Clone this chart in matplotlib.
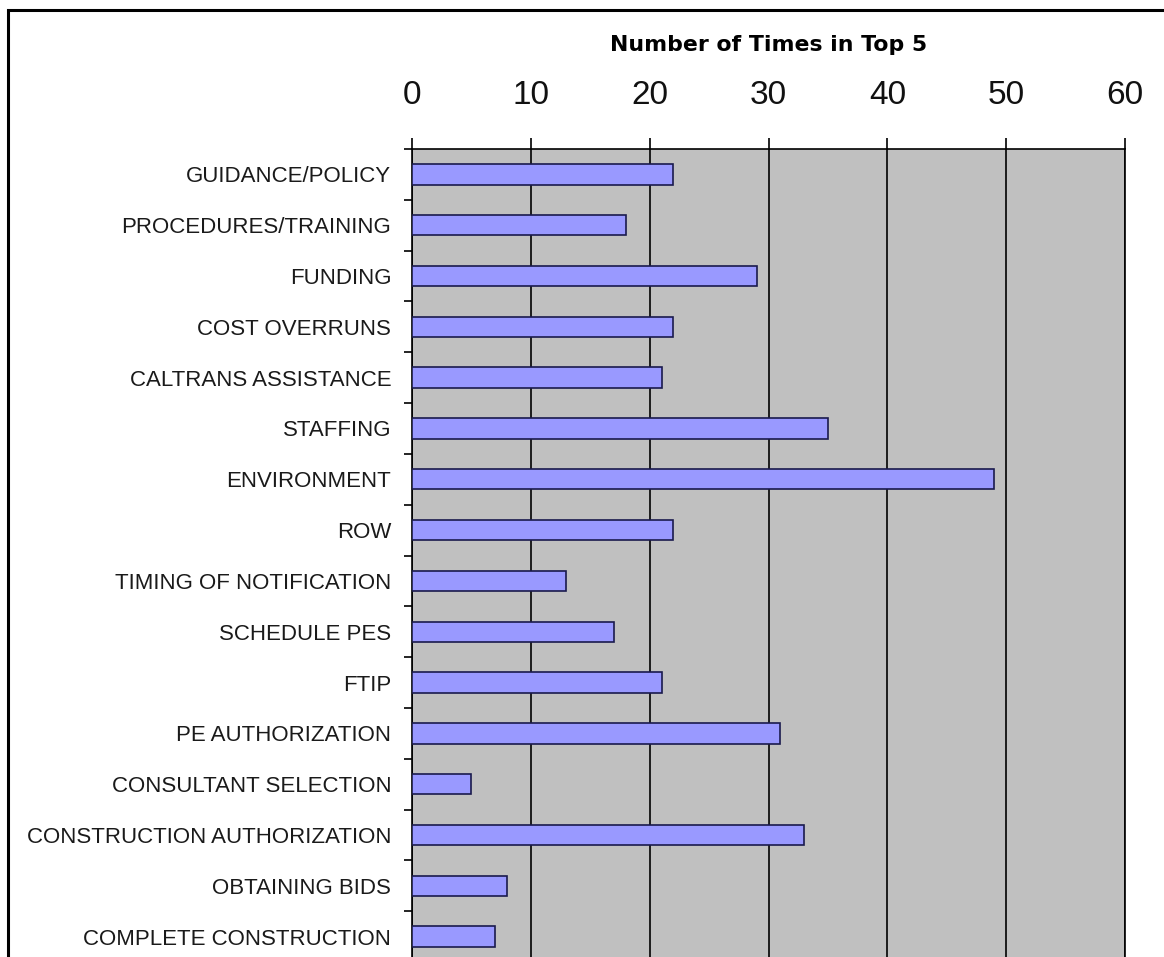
import matplotlib
matplotlib.use("Agg")
import matplotlib.pyplot as plt
from matplotlib.patches import Rectangle
from matplotlib.ticker import FixedLocator
import numpy as np

categories = [
    "GUIDANCE/POLICY",
    "PROCEDURES/TRAINING",
    "FUNDING",
    "COST OVERRUNS",
    "CALTRANS ASSISTANCE",
    "STAFFING",
    "ENVIRONMENT",
    "ROW",
    "TIMING OF NOTIFICATION",
    "SCHEDULE PES",
    "FTIP",
    "PE AUTHORIZATION",
    "CONSULTANT SELECTION",
    "CONSTRUCTION AUTHORIZATION",
    "OBTAINING BIDS",
    "COMPLETE CONSTRUCTION",
]
times_in_top5 = [22, 18, 29, 22, 21, 35, 49, 22, 13, 17, 21, 31, 5, 33, 8, 7]
x_ticks = [0, 10, 20, 30, 40, 50, 60]
axis_title = "Number of Times in Top 5"

W, H = 1164, 957
fig = plt.figure(figsize=(W / 100, H / 100), dpi=100)

# plot area: the lower edge runs just past the bottom of the figure
left, right, top, bottom = 412, 1125, 149, 962
ax = fig.add_axes([left / W, (H - bottom) / H, (right - left) / W, (bottom - top) / H])
ax.set_facecolor("#c0c0c0")

y = np.arange(len(categories))
ax.barh(y, times_in_top5, height=0.4, color="#9999ff", edgecolor="#1a1a4d",
        linewidth=1.2, zorder=3)

ax.set_xlim(x_ticks[0], x_ticks[-1])
ax.set_ylim(len(categories) - 0.5, -0.5)

# value axis on top
ax.xaxis.tick_top()
ax.xaxis.set_label_position("top")
ax.set_xticks(x_ticks)
ax.set_xticklabels([str(t) for t in x_ticks], family="Liberation Sans", fontsize=24,
                   color="#111111")
ax.tick_params(axis="x", which="major", direction="out", length=8, width=1.2,
               color="black", pad=19)
ax.grid(axis="x", color="black", linewidth=1.2, zorder=1)
ax.set_axisbelow(True)

# category labels with boundary ticks between them
ax.set_yticks(y)
ax.set_yticklabels(categories, family="Liberation Sans", fontsize=16, color="#1a1a1a")
ax.yaxis.set_minor_locator(FixedLocator(np.arange(-0.5, len(categories), 1.0)))
ax.tick_params(axis="y", which="major", length=0, pad=15)
ax.tick_params(axis="y", which="minor", direction="out", length=6, width=1.2,
               color="black")

for s in ax.spines.values():
    s.set_color("black")
    s.set_linewidth(1.2)

fig.text((left + right) / 2 / W, 1 - 45 / H, axis_title, ha="center", va="center",
         family="DejaVu Sans", fontweight="bold", fontsize=15.8)

# outer frame around the figure
fig.patches.append(Rectangle((8 / W, -0.1), 1.2, (H - 10) / H + 0.1,
                             transform=fig.transFigure, fill=False,
                             edgecolor="black", linewidth=2.2))

fig.savefig("out.png", dpi=100)
